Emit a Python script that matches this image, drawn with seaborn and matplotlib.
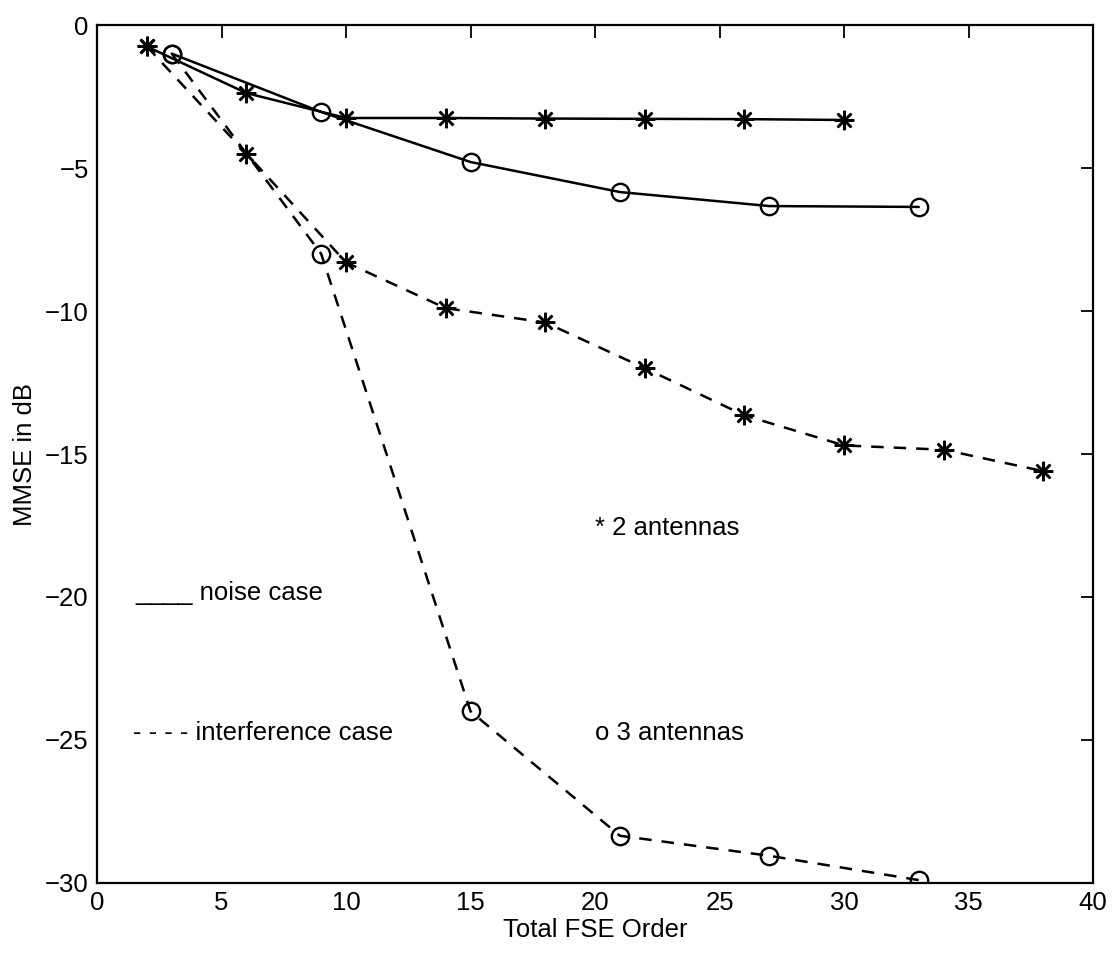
import matplotlib
matplotlib.use("Agg")
import matplotlib.pyplot as plt
import seaborn as sns
import pandas as pd

# ---- data ----
x_noise_2 = [2, 6, 10, 14, 18, 22, 26, 30]
y_noise_2 = [-0.75, -2.38, -3.25, -3.25, -3.27, -3.28, -3.29, -3.32]

x_noise_3 = [3, 9, 15, 21, 27, 33]
y_noise_3 = [-1.0, -3.04, -4.79, -5.84, -6.33, -6.36]

x_intf_2 = [2, 6, 10, 14, 18, 22, 26, 30, 34, 38]
y_intf_2 = [-0.75, -4.5, -8.3, -9.9, -10.4, -12.0, -13.65, -14.7, -14.85, -15.6]

x_intf_3 = [3, 9, 15, 21, 27, 33]
y_intf_3 = [-1.0, -8.0, -24.0, -28.35, -29.05, -29.9]

x_label = "Total FSE Order"
y_label = "MMSE in dB"
x_ticks = [0, 5, 10, 15, 20, 25, 30, 35, 40]
y_ticks = [0, -5, -10, -15, -20, -25, -30]

sns.set_theme(style="white")
plt.rcParams["font.family"] = ["Liberation Sans", "DejaVu Sans"]

fig = plt.figure(figsize=(11.13, 9.56), dpi=100)
ax = fig.add_axes([0.0872, 0.0764, 0.8949, 0.8974])

star = (8, 2, 0)
lw = 1.8
common = dict(color="black", linewidth=lw, ax=ax, legend=False, sort=False)

sns.lineplot(x=x_noise_2, y=y_noise_2, marker=star, markersize=14,
             markeredgewidth=1.8, markeredgecolor="black", **common)
sns.lineplot(x=x_noise_3, y=y_noise_3, marker="o", markersize=12.5,
             markeredgewidth=1.7, markerfacecolor="none", markeredgecolor="black", **common)
sns.lineplot(x=x_intf_2, y=y_intf_2, marker=star, markersize=14,
             markeredgewidth=1.8, markeredgecolor="black", **common)
sns.lineplot(x=x_intf_3, y=y_intf_3, marker="o", markersize=12.5,
             markeredgewidth=1.7, markerfacecolor="none", markeredgecolor="black", **common)

lines = ax.get_lines()
for ln in lines[2:4]:
    ln.set_linestyle((0, (5, 4)))

ax.set_xlim(0, 40)
ax.set_ylim(-30, 0)
ax.set_xticks(x_ticks)
ax.set_yticks(y_ticks)
ax.set_yticklabels(["0", "\u22125", "\u221210", "\u221215", "\u221220", "\u221225", "\u221230"])
ax.tick_params(axis="both", direction="in", length=9, width=1.3, labelsize=18.5,
               top=True, right=True, pad=6, colors="black")
for s in ax.spines.values():
    s.set_color("black")
    s.set_linewidth(1.6)
ax.set_xlabel(x_label, fontsize=18.5, labelpad=2, color="black")
ax.set_ylabel(y_label, fontsize=18.5, labelpad=6, color="black")

fs = 18.5
ax.text(1.55, -19.85, "____ noise case", fontsize=fs, va="center", ha="left", color="black")
ax.text(1.45, -24.75, "- - - - interference case", fontsize=fs, va="center", ha="left", color="black")
ax.text(20.0, -17.6, "* 2 antennas", fontsize=fs, va="center", ha="left", color="black")
ax.text(20.0, -24.75, "o 3 antennas", fontsize=fs, va="center", ha="left", color="black")

fig.savefig("out.png", dpi=100, facecolor="white")
